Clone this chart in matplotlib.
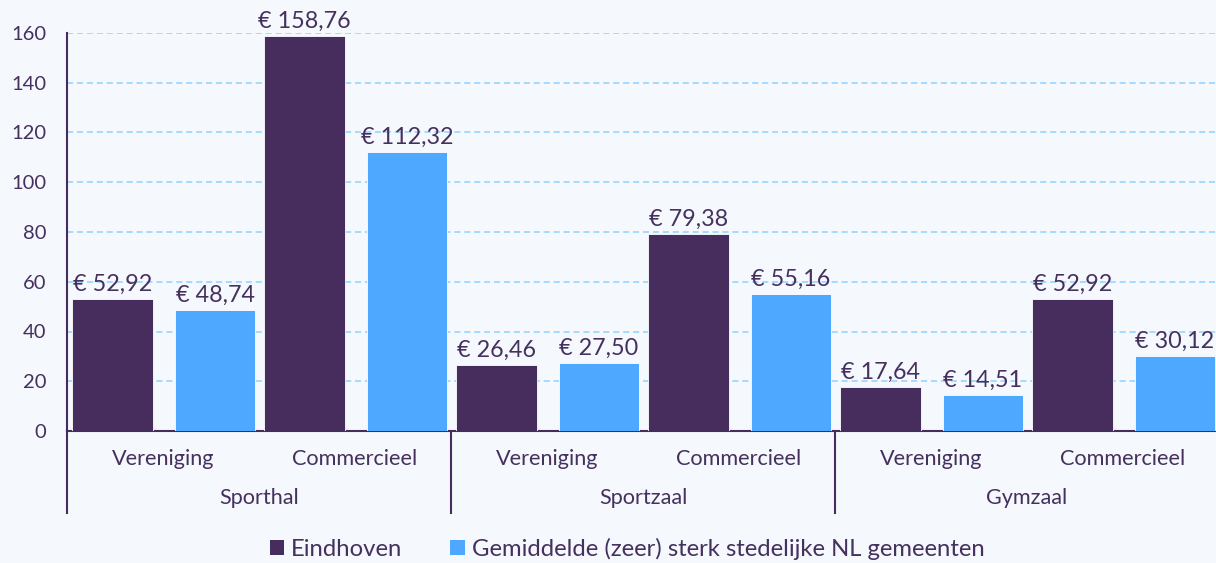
import numpy as np
import matplotlib
matplotlib.use("Agg")
from matplotlib import pyplot as plt
from matplotlib.patches import Patch

# data
groups = ["Sporthal", "Sportzaal", "Gymzaal"]
subcats = ["Vereniging", "Commercieel"]
eindhoven = [52.92, 158.76, 26.46, 79.38, 17.64, 52.92]
gemiddelde = [48.74, 112.32, 27.50, 55.16, 14.51, 30.12]
series_names = ["Eindhoven", "Gemiddelde (zeer) sterk stedelijke NL gemeenten"]
yticks = [0, 20, 40, 60, 80, 100, 120, 140, 160]

purple = "#472C5E"
blue = "#4FA8FF"
txt = "#45305E"
bg = "#F5F8FD"

plt.rcParams['font.family'] = ['Lato', 'DejaVu Sans']

fig = plt.figure(figsize=(12.16, 5.63), dpi=100, facecolor=bg)
ax = fig.add_axes([67 / 1216, 132 / 563, 1152 / 1216, 398 / 563])
ax.set_facecolor(bg)

x = np.arange(len(eindhoven))
w = 0.42
b1 = ax.bar(x - 0.263, eindhoven, w, color=purple, edgecolor="white", linewidth=0.6, zorder=3)
b2 = ax.bar(x + 0.271, gemiddelde, w, color=blue, edgecolor="white", linewidth=0.6, zorder=3)


def fmt(v):
    return "€ " + f"{v:.2f}".replace(".", ",")


for bars, vals in ((b1, eindhoven), (b2, gemiddelde)):
    for r, v in zip(bars, vals):
        ax.annotate(fmt(v), (r.get_x() + r.get_width() / 2, v), xytext=(0, 3),
                    textcoords="offset points", ha="center", va="bottom",
                    fontsize=16.8, color=txt, clip_on=False, zorder=5)

ax.set_ylim(0, 160)
ax.set_xlim(-0.5, len(x) - 0.5)
ax.set_yticks(yticks)
ax.tick_params(axis="y", length=0, labelsize=14.5, labelcolor=txt, pad=15)
ax.set_xticks([])
ax.grid(axis="y", color="#8ED2FF", linestyle=(0, (4, 2.5)), linewidth=1.1, zorder=0)

for s in ("top", "right"):
    ax.spines[s].set_visible(False)
ax.spines["left"].set_color(purple)
ax.spines["left"].set_linewidth(1.5)
ax.spines["bottom"].set_color(purple)
ax.spines["bottom"].set_linewidth(1.5)

# multi-level category axis
trans = ax.get_xaxis_transform()
for i in range(len(x)):
    ax.text(x[i], -0.07, subcats[i % 2], transform=trans, ha="center", va="center",
            fontsize=15.6, color=txt)
for g, name in enumerate(groups):
    ax.text(2 * g + 0.5, -0.168, name, transform=trans, ha="center", va="center",
            fontsize=15.6, color=txt)
for xs in [-0.5, 1.5, 3.5]:
    ax.plot([xs, xs], [0, -0.207], transform=trans, color=purple, linewidth=1.5,
            clip_on=False)

handles = [Patch(facecolor=purple), Patch(facecolor=blue)]
fig.legend(handles, series_names, loc="center", bbox_to_anchor=(627 / 1216, 0.025),
           ncol=2, frameon=False, fontsize=17.2, labelcolor=txt, handlelength=0.6,
           handleheight=0.6, handletextpad=0.3, columnspacing=2.0)

fig.savefig("out.png", dpi=100, facecolor=bg)
